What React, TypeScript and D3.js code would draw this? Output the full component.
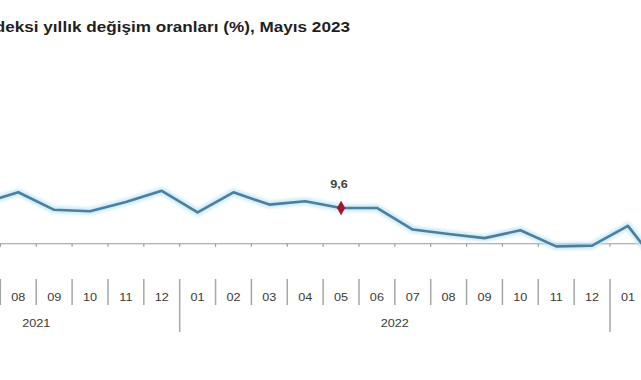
import React from "react";
import * as d3 from "d3";

const W = 641;
const H = 380;

const title = "Sanayi üretim endeksi yıllık değişim oranları (%), Mayıs 2023";

const years = ["2021", "2021", "2021", "2021", "2021", "2021", "2021", "2021",
  "2022", "2022", "2022", "2022", "2022", "2022", "2022", "2022", "2022", "2022", "2022", "2022",
  "2023", "2023", "2023", "2023", "2023"];
const months = ["05", "06", "07", "08", "09", "10", "11", "12",
  "01", "02", "03", "04", "05", "06", "07", "08", "09", "10", "11", "12",
  "01", "02", "03", "04", "05"];
const values: (number | null)[] = [null, null, 10.9, 13.8, 9.1, 8.7, 11.2, 14.2,
  8.4, 13.8, 10.5, 11.4, 9.6, 9.6, 3.8, 2.6, 1.5, 3.6, -0.7, -0.5,
  4.8, -7.5, null, null, null];
const highlightIndex = 12;
const highlightLabel = "9,6";

const yearList = ["2021", "2022", "2023"];

export default function App() {
  const keys = months.map((m, i) => `${years[i]}-${m}`);
  const bandW = 35.86;
  const x0 = -107.2;
  const x = d3.scaleBand<string>().domain(keys).range([x0, x0 + bandW * keys.length]).padding(0);
  const y = d3.scaleLinear().domain([-10, 45]).range([281, 76]);
  const cx = (i: number) => (x(keys[i]) as number) + x.bandwidth() / 2;
  const inView = (px: number) => px > 0 && px < W;

  const pts = values.map((v, i) => ({ v, i }));
  const line = d3
    .line<{ v: number | null; i: number }>()
    .defined((d) => d.v !== null)
    .x((d) => cx(d.i))
    .y((d) => y(d.v as number));
  const pathD = line(pts) || "";

  const zeroY = y(0);
  const sepTop = 279;
  const sepShortBottom = 305;
  const sepLongBottom = 332;
  const sx = 1.15;
  const font = "'Liberation Sans', Arial, sans-serif";

  const diamond = d3.symbol().type(d3.symbolDiamond).size(60)();
  const hv = values[highlightIndex] as number;

  return (
    <svg width={W} height={H} style={{ position: "absolute", left: 0, top: 0, background: "#fff" }}>
      <defs>
        <filter id="glow" x="-10%" y="-50%" width="120%" height="200%">
          <feGaussianBlur stdDeviation="1.8" />
        </filter>
      </defs>
      <rect x={0} y={0} width={W} height={H} fill="#fff" />
      <text
        transform={`translate(350,32) scale(1.225,1)`}
        textAnchor="end"
        fontFamily={font}
        fontWeight="bold"
        fontSize={14}
        fill="#1f1f1f"
      >
        {title}
      </text>

      {/* x axis at zero */}
      <line x1={0} x2={W} y1={zeroY} y2={zeroY} stroke="#9a9a9a" strokeWidth={1.2} />
      {keys.map((k) => (
        <line
          key={"t" + k}
          x1={x(k) as number}
          x2={x(k) as number}
          y1={zeroY}
          y2={zeroY + 3}
          stroke="#9a9a9a"
          strokeWidth={1.2}
        />
      ))}

      {/* glow and line */}
      <path d={pathD} fill="none" stroke="#c2e7f3" strokeWidth={7.5} strokeLinejoin="round" opacity={0.8} filter="url(#glow)" />
      <path d={pathD} fill="none" stroke="#4c7ea0" strokeWidth={2.6} strokeLinejoin="round" />

      <path d={diamond} transform={`translate(${cx(highlightIndex)},${y(hv)})`} fill="#a3162b" />
      <text
        transform={`translate(${cx(highlightIndex) - 2},${y(hv) - 19.5}) scale(${sx},1)`}
        textAnchor="middle"
        fontFamily={font}
        fontWeight="bold"
        fontSize={11}
        fill="#404040"
      >
        {highlightLabel}
      </text>

      {/* separators */}
      {keys.map((k, i) => {
        const bx = x(k) as number;
        const isYear = months[i] === "01";
        return (
          <line
            key={"s" + k}
            x1={bx}
            x2={bx}
            y1={sepTop}
            y2={isYear ? sepLongBottom : sepShortBottom}
            stroke="#a6a6a6"
            strokeWidth={1.5}
          />
        );
      })}

      {/* month labels */}
      {keys.map((k, i) =>
        inView(cx(i)) ? (
          <text
            key={"m" + k}
            transform={`translate(${cx(i)},301) scale(${sx},1)`}
            textAnchor="middle"
            fontFamily={font}
            fontSize={11}
            fill="#3a3a3a"
          >
            {months[i]}
          </text>
        ) : null
      )}

      {/* year labels */}
      {yearList.map((yr) => {
        const idx = keys.map((k, i) => i).filter((i) => years[i] === yr);
        const left = x(keys[idx[0]]) as number;
        const right = (x(keys[idx[idx.length - 1]]) as number) + x.bandwidth();
        const c = (left + right) / 2;
        if (!inView(c)) return null;
        return (
          <text
            key={"y" + yr}
            transform={`translate(${c},327) scale(${sx},1)`}
            textAnchor="middle"
            fontFamily={font}
            fontSize={11}
            fill="#3a3a3a"
          >
            {yr}
          </text>
        );
      })}
    </svg>
  );
}
